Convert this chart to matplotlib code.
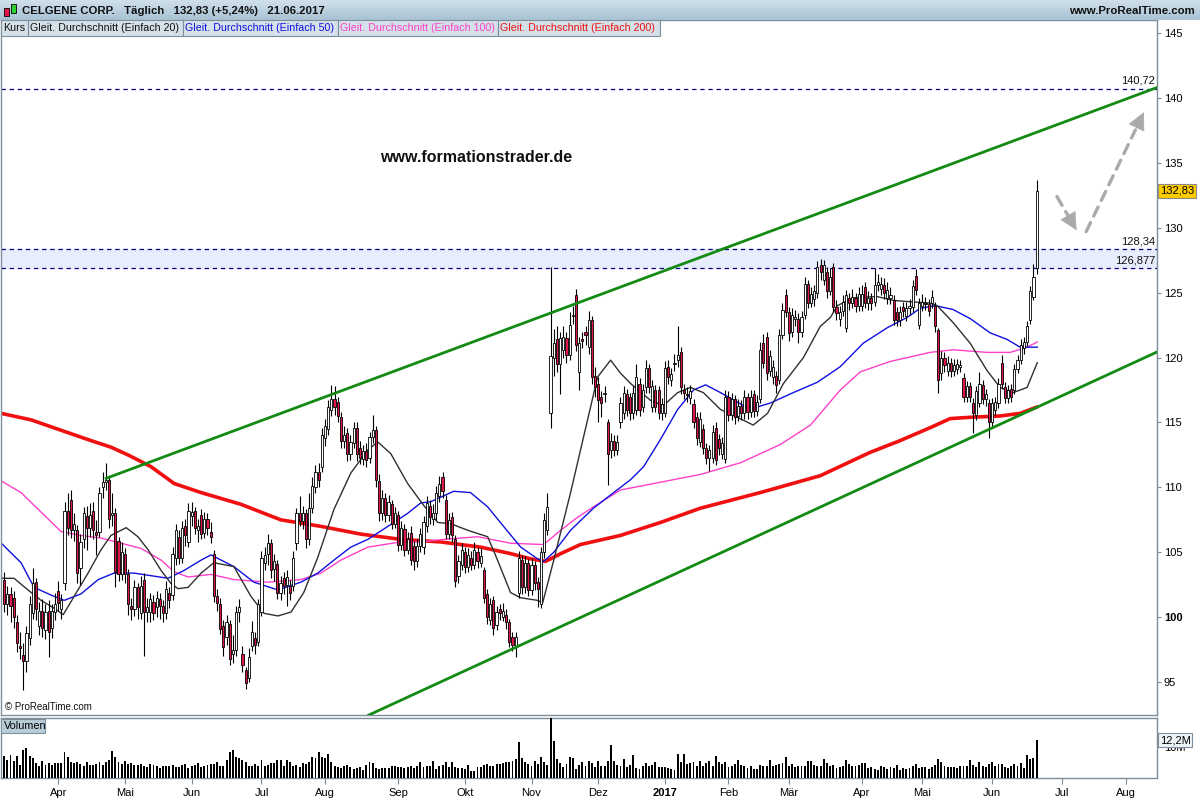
import matplotlib
matplotlib.use('Agg')
import matplotlib.pyplot as plt
import matplotlib.patches as mpatches
from matplotlib.colors import LinearSegmentedColormap
import numpy as np
import pandas as pd

plt.rcParams['font.family'] = ['Liberation Sans', 'DejaVu Sans']

# ---------------- data ----------------
opens = [
 102.9,101.0,101.8,101.5,99.6,97.8,97.1,96.6,98.4,100.3,102.7,99.3,100.5,99.0,100.5,99.2,100.4,
 102.0,100.6,102.6,108.2,109.0,106.7,106.7,103.8,106.0,107.8,106.9,108.2,106.6,106.6,110.0,110.4,110.6,107.9,108.0,105.9,103.3,
 104.9,103.3,100.9,100.6,102.3,100.3,102.9,100.4,100.4,101.2,100.8,101.4,100.9,100.3,101.9,101.7,104.6,106.2,104.6,107.0,105.8,
 107.8,108.2,106.7,107.9,106.5,107.6,106.6,104.9,101.6,101.0,99.3,98.5,99.5,97.2,97.5,100.4,97.2,95.9,95.3,97.8,98.4,98.1,
 100.4,104.2,104.9,105.7,103.7,104.1,101.9,103.0,102.5,102.4,102.4,105.7,108.0,107.4,108.0,106.0,108.4,110.0,111.2,111.6,
 113.8,114.5,116.0,116.8,116.6,115.4,113.6,114.2,112.6,113.4,114.6,113.0,112.2,112.8,112.3,113.9,114.4,110.5,108.0,109.2,107.9,108.7,107.2,
 107.9,105.6,106.8,105.2,106.5,105.5,104.3,105.5,105.4,107.0,108.6,107.6,108.0,109.3,110.8,109.0,106.4,107.7,106.0,103.2,104.0,
 105.0,103.9,104.6,104.0,105.0,104.2,103.6,101.8,99.8,101.3,99.4,100.6,100.0,100.2,99.6,98.5,97.7,101.9,104.4,102.3,104.2,
 102.1,104.0,102.7,101.0,105.0,106.7,115.7,120.0,121.4,119.5,120.6,121.5,120.2,123.2,124.8,118.9,121.4,122.0,120.8,122.9,118.6,
 118.0,117.0,117.2,115.0,112.9,113.6,112.9,115.0,115.7,117.2,117.0,115.7,116.0,118.0,116.2,117.7,119.2,116.2,117.5,117.5,115.7,
 115.7,119.3,118.3,119.5,119.8,120.4,117.5,117.2,116.9,116.4,115.4,113.5,114.5,113.0,112.3,112.3,114.6,113.7,112.6,112.2,
 117.0,115.6,116.8,115.5,116.3,115.7,117.0,115.8,117.2,115.9,116.8,121.1,121.6,119.0,118.5,118.6,118.3,121.7,124.8,
 123.5,122.0,123.0,123.0,122.0,123.3,125.7,124.2,124.5,125.0,127.1,126.0,126.6,125.1,127.0,123.9,123.0,123.6,122.3,124.6,124.2,124.6,124.0,
 124.0,125.4,124.2,124.6,124.3,125.6,125.3,125.6,124.6,124.6,124.4,123.5,122.9,123.9,123.2,123.8,123.9,126.3,122.5,
 124.0,124.2,124.1,124.2,124.0,122.1,118.8,120.0,119.0,119.6,119.0,119.1,119.3,118.4,117.0,117.8,116.5,115.6,116.5,117.9,116.8,116.5,
 115.0,116.0,116.5,119.6,117.7,116.9,117.6,117.5,119.1,119.8,120.7,121.2,122.9,124.7,126.9]

closes = [
 101.0,101.8,100.9,100.0,98.0,97.6,96.6,98.8,101.0,102.6,100.6,100.5,99.2,100.4,98.9,100.5,101.0,
 101.1,101.3,108.2,106.9,106.7,107.2,103.4,105.8,108.0,106.9,107.9,106.7,106.3,109.6,110.4,110.6,107.6,108.0,103.5,103.3,105.0,
 103.3,101.0,100.6,102.3,100.8,102.4,100.4,100.8,101.4,100.3,101.5,100.9,100.3,102.2,101.3,104.9,106.7,104.6,106.9,106.3,108.2,
 108.1,106.9,107.0,106.4,107.6,106.9,106.2,101.6,101.1,99.1,97.7,99.6,96.8,97.5,100.4,100.8,96.3,94.9,96.9,98.9,97.9,101.0,
 104.6,104.8,105.7,103.6,104.3,101.9,102.6,102.4,103.1,101.9,104.6,108.0,107.4,108.0,106.0,108.4,110.1,111.2,110.6,114.0,
 114.7,116.2,116.8,116.2,115.5,113.6,114.0,112.6,113.5,114.6,112.6,112.3,112.8,112.1,113.9,114.4,110.6,108.0,109.2,107.9,108.9,107.2,108.0,
 105.6,106.9,105.2,106.0,104.4,104.3,105.5,106.4,107.3,108.8,107.7,108.0,109.6,110.3,109.7,106.4,107.5,106.3,102.8,104.3,105.2,
 103.9,104.8,104.0,105.2,104.3,104.7,101.5,100.0,101.0,99.2,100.4,100.3,100.5,99.6,98.1,97.9,98.5,104.6,102.3,104.2,102.1,
 104.0,102.6,102.2,105.0,107.5,108.5,120.1,121.1,119.5,121.5,121.6,120.2,122.5,123.3,121.0,121.1,121.3,121.7,122.9,118.5,117.7,
 116.7,116.5,117.3,112.6,113.6,112.9,113.5,116.5,117.3,116.0,115.7,117.3,118.5,116.0,117.5,119.2,117.7,117.8,116.2,115.7,116.4,
 119.2,118.5,118.7,119.6,120.2,117.7,117.3,117.1,117.4,115.0,113.8,115.3,113.0,112.3,112.9,114.3,112.1,113.0,113.4,117.0,
 115.6,116.8,115.4,116.3,115.7,117.0,115.8,117.0,115.9,116.6,120.6,119.6,118.8,120.1,119.3,117.9,121.7,123.7,123.5,
 121.9,123.3,123.1,122.0,123.1,125.7,124.2,124.9,125.1,127.0,126.6,127.1,125.1,126.2,123.9,123.4,123.5,124.3,124.8,124.2,124.7,124.0,124.9,
 124.9,124.2,124.6,124.2,125.6,125.8,125.7,125.0,125.2,124.8,122.9,122.9,123.5,123.6,123.8,124.0,125.5,125.2,124.2,
 124.3,124.1,123.6,124.7,122.4,118.3,120.0,119.4,119.6,119.0,119.4,119.5,119.4,117.0,117.8,117.0,115.7,117.4,118.0,116.8,117.2,115.0,
 116.5,116.6,118.0,118.0,116.9,117.5,117.0,119.1,119.8,121.0,121.2,122.4,125.1,126.2,132.83]

highs = [
 103.5,102.4,102.3,102.0,100.2,98.9,98.0,99.3,101.6,103.8,103.0,101.2,101.4,101.0,101.3,101.0,101.9,
 102.8,101.8,108.9,109.6,109.8,108.0,107.1,106.4,108.5,108.6,108.8,108.9,107.5,110.0,111.2,111.9,110.9,109.6,108.4,106.2,105.8,
 105.3,103.7,101.5,102.9,102.6,103.2,103.4,101.5,101.9,101.7,102.0,101.9,101.3,102.8,102.3,105.4,107.2,106.7,107.4,107.6,108.8,
 108.9,108.5,107.6,108.3,108.1,108.0,107.3,105.2,102.2,101.5,99.8,100.2,99.8,98.6,100.9,101.4,97.8,96.2,97.6,99.7,98.9,101.4,
 105.1,105.4,106.4,106.0,104.9,104.4,103.2,103.5,103.6,102.9,105.1,108.4,109.3,108.6,108.3,109.6,110.8,111.7,111.9,114.6,
 115.3,116.7,117.9,117.8,117.0,115.8,114.7,114.6,114.0,115.0,115.0,113.6,113.3,113.4,114.3,115.6,114.7,111.0,109.8,109.6,109.4,109.0,108.5,
 108.2,107.4,107.2,106.6,107.0,105.9,106.0,106.9,107.8,109.3,109.0,108.7,110.1,110.9,111.2,109.4,108.0,108.1,106.3,104.8,105.7,
 105.4,105.3,105.1,105.8,105.4,105.3,103.9,102.2,101.5,101.6,100.9,101.0,101.1,100.6,99.9,98.9,98.9,105.1,104.8,104.7,104.5,
 104.6,104.3,103.1,105.4,108.0,109.6,127.0,122.2,122.4,122.0,122.4,122.0,123.5,124.0,125.3,121.6,122.0,122.4,123.6,123.2,119.3,
 118.5,117.4,117.8,115.3,114.2,114.0,114.0,117.0,117.8,117.6,117.3,117.8,119.5,118.4,118.0,119.8,119.5,118.3,117.9,117.8,116.9,
 119.7,119.8,119.2,120.3,122.4,120.8,118.0,117.7,117.9,116.8,115.8,115.8,114.9,113.4,113.3,114.8,115.0,114.1,113.9,117.5,
 117.4,117.3,117.1,116.8,116.7,117.5,117.3,117.5,117.5,117.1,121.2,121.8,122.0,120.6,119.8,119.0,122.2,124.2,125.3,
 123.9,123.8,123.7,123.4,123.6,126.2,126.0,125.4,125.6,127.4,127.6,127.5,127.0,126.9,127.3,124.4,124.0,124.8,125.2,125.0,125.3,125.0,125.4,
 125.6,125.8,125.1,125.0,126.9,126.4,126.2,126.1,125.8,125.4,124.8,123.9,124.0,124.3,124.3,124.5,126.0,126.8,124.6,
 124.9,124.7,124.5,125.2,124.3,122.3,120.5,120.4,120.1,120.0,119.9,119.9,119.8,118.8,118.2,118.1,116.9,117.8,118.9,118.3,117.6,116.8,
 116.9,117.0,118.4,120.2,118.1,117.9,118.0,119.5,120.2,121.4,121.6,122.8,125.5,127.2,133.7]

lows = [
 100.4,100.2,99.6,99.2,97.3,96.8,94.4,95.8,97.9,99.9,99.8,98.6,98.5,98.3,96.9,98.4,99.8,
 100.5,99.9,102.1,106.3,106.1,105.9,102.6,102.5,105.3,105.2,106.2,106.0,104.8,106.2,109.2,109.8,106.9,107.0,102.3,102.8,102.9,
 102.6,100.2,99.8,100.1,99.9,99.9,97.0,99.6,99.6,99.8,100.0,99.9,99.6,99.9,100.7,101.3,104.0,104.1,104.2,105.5,105.4,
 107.0,106.4,105.8,106.0,106.1,106.3,105.7,101.2,100.5,98.7,97.0,97.9,96.3,96.5,97.0,99.6,95.8,94.5,95.0,97.4,97.2,97.8,
 100.1,103.6,104.0,103.0,102.8,101.4,101.3,101.8,100.9,101.3,102.0,105.2,107.0,106.8,105.3,105.6,108.0,109.6,110.0,111.2,
 113.2,114.0,115.5,115.6,115.0,113.0,113.0,112.0,112.1,113.0,112.0,111.8,111.7,111.6,111.9,113.4,110.0,107.4,107.5,107.3,107.4,106.8,106.9,
 105.1,105.2,104.7,104.9,104.0,103.6,103.9,105.0,104.9,106.6,107.2,107.1,107.5,108.9,109.2,106.0,106.0,105.8,102.3,102.6,103.6,
 103.4,103.5,103.6,103.7,103.8,103.9,101.1,99.5,99.4,98.6,99.0,99.8,99.7,99.1,97.7,97.4,96.9,101.5,101.8,101.9,101.6,
 101.7,102.1,100.8,100.7,104.6,106.3,114.6,118.6,118.9,117.2,120.0,119.6,119.8,122.6,120.5,117.5,120.7,121.0,120.3,118.0,117.0,
 115.0,115.4,116.6,110.2,112.3,112.4,112.5,114.6,115.3,115.5,115.2,115.3,115.6,115.5,115.8,117.3,117.3,115.8,115.8,115.3,115.2,
 115.4,118.0,117.8,119.0,119.3,117.2,116.8,116.6,116.4,114.6,113.3,113.1,112.6,111.8,111.3,111.9,111.7,112.5,112.2,111.9,
 115.1,115.2,114.9,115.1,115.2,115.3,115.3,115.4,115.4,115.5,116.5,119.2,118.3,118.6,118.0,117.3,118.0,121.4,123.1,
 121.3,121.6,122.4,121.1,121.6,123.0,123.8,123.9,124.0,124.6,126.0,125.6,124.6,124.8,123.5,122.9,122.4,123.2,122.0,123.7,123.8,123.5,123.6,
 123.6,123.8,123.7,123.7,124.0,125.1,124.8,124.5,124.1,124.1,122.5,122.4,122.4,123.1,122.8,123.3,123.5,124.8,122.2,
 123.6,123.7,123.2,123.8,122.0,117.3,118.3,118.9,118.6,118.5,118.6,118.7,118.9,116.6,116.6,116.6,114.2,115.2,116.2,116.4,116.3,113.8,
 114.6,115.6,116.1,117.6,116.5,116.5,116.6,117.2,118.8,119.5,120.3,120.9,122.6,124.4,126.4]

volumes_m = [
 7.0,5.9,7.5,5.4,7.0,4.3,9.1,9.6,7.0,6.4,4.8,3.8,5.4,4.3,4.8,4.3,4.8,
 4.9,4.8,8.4,6.6,5.0,4.8,5.3,4.5,4.0,5.3,4.3,4.2,4.6,5.0,4.1,5.2,5.8,8.7,6.9,5.3,4.6,
 5.5,4.4,4.8,4.3,4.1,4.4,3.9,3.6,4.5,4.2,3.9,3.2,3.7,3.9,4.0,4.1,3.5,3.6,4.2,4.4,3.3,
 3.9,4.2,4.9,3.6,3.9,4.2,4.4,4.6,5.3,3.8,4.0,5.9,8.4,9.0,6.9,6.3,5.8,5.2,4.0,3.8,4.6,3.9,
 5.8,4.0,4.2,4.7,4.9,5.8,5.9,3.8,5.7,5.3,3.8,4.1,3.6,4.8,4.5,5.1,6.6,6.4,8.4,6.6,
 6.3,7.6,5.2,3.7,3.5,3.3,3.8,4.3,3.4,2.9,3.3,3.5,2.7,4.3,5.2,4.8,3.3,3.0,3.2,3.3,3.1,3.7,3.8,
 3.6,3.4,3.3,3.6,3.8,3.2,4.0,5.3,3.5,3.9,3.9,5.5,2.9,3.7,4.2,5.0,3.6,5.3,3.4,3.1,3.2,
 2.8,4.2,2.2,2.4,3.5,3.6,4.1,4.5,3.8,3.8,4.6,4.6,4.8,5.0,5.3,5.6,6.0,11.5,6.4,5.2,4.6,
 3.8,5.6,4.6,6.8,5.0,4.2,21.0,12.0,6.0,4.7,3.5,4.6,6.8,6.4,2.8,4.3,5.3,3.8,5.6,4.7,3.6,
 5.6,4.0,3.8,5.6,10.5,5.6,4.2,4.0,6.0,3.5,4.2,7.3,3.3,2.9,4.0,4.8,3.9,4.3,5.0,3.5,3.6,
 3.6,3.2,2.8,2.7,7.8,5.0,7.8,4.5,4.7,5.0,4.0,5.6,3.8,4.8,5.5,3.9,7.2,5.2,4.6,5.0,
 3.6,4.0,4.4,5.9,4.2,3.8,3.2,3.7,2.8,3.0,4.3,3.8,4.0,5.7,3.9,4.1,4.5,4.8,6.8,
 3.8,4.6,3.4,3.7,4.0,3.8,5.6,5.5,4.1,3.7,4.0,6.2,4.7,3.9,4.2,3.3,3.5,3.8,5.8,4.5,3.7,4.0,4.3,
 4.7,4.9,3.3,3.5,3.0,2.7,3.7,3.4,3.0,3.4,3.3,4.2,2.5,3.2,3.0,3.1,3.7,4.6,3.1,
 3.6,3.5,3.0,3.4,4.1,6.2,5.1,3.7,3.5,3.5,3.4,3.2,3.8,3.8,3.7,5.9,4.1,3.5,5.0,4.0,3.6,4.5,
 5.0,3.8,4.5,4.6,3.6,3.2,3.8,4.5,3.9,4.8,3.2,7.5,6.1,6.3,12.2]

# moving averages: (trading-day number, value)
sma20_idx = [-0.9,3.1,7.5,11.6,15.7,18.6,22,26.4,30.5,33.6,38.4,42.1,45.3,49.4,52.5,54.7,57.9,62,66,72.3,77.7,81.8,86.2,90.3,94.3,98.7,103.8,109.1,114.5,117.6,121.7,127,132.1,136.5,140.6,145.9,152.2,155.3,159.4,162.6,167.9,169.5,173,178.3,182.4,186.8,190.9,194,197.2,203.5,207.5,212,216,220.1,225.5,230.8,235.8,240.3,245.3,251.6,256.9,260.1,262.3,267.3,274.8,279.9,285.2,291.5,293.7,298.7,304.1,309.4,313.5,317.6,322,325.2]
sma20_val = [103.0,103.0,102.1,101.3,100.7,100.2,101.6,103.4,105.2,106.3,106.9,106.2,105.2,103.6,102.6,102.2,102.3,103.4,104.2,103.9,101.6,100.3,100.1,100.4,101.9,104.6,108.3,111.1,112.9,113.5,112.6,110.3,108.6,107.3,107.2,106.7,106.2,104.4,101.9,101.5,101.3,101.1,104.4,109.6,113.9,118.5,119.8,118.8,118.0,116.7,116.3,117.3,117.7,117.3,116.0,115.4,114.8,115.7,118.0,120.0,122.4,123.1,124.0,124.6,124.7,124.4,124.3,124.2,124.0,122.7,121.1,119.0,117.7,117.3,117.7,119.6]
sma50_idx = [-0.9,5.3,9.4,14.8,18.9,24.2,29.6,34.6,40.9,46.2,51.6,56.6,62,65.1,72.3,78.6,86.2,93.4,98.7,103.8,109.1,114.5,120.8,127,131.1,134.3,141.5,146.8,152.2,157.2,162.6,167.9,169.8,173,178.3,185.5,194,197.2,201.3,206.6,212,217,220.8,225.5,232.7,235.8,241.2,248.4,256,263.2,270.4,278,284.3,288.4,293.1,298.7,304.1,310.4,315.7,319.8,325.2]
sma50_val = [105.7,104.2,102.3,101.7,101.3,101.8,102.9,103.4,103.4,103.2,103.0,103.6,104.4,104.8,103.9,102.7,102.1,102.7,103.4,104.4,105.4,106.0,107.0,108.0,108.8,108.9,109.7,109.6,108.5,107.0,105.4,104.5,104.3,105.0,106.7,108.4,110.0,110.6,111.6,113.7,116.0,117.5,117.9,117.3,116.3,116.1,116.5,117.3,118.1,119.3,121.1,122.3,123.1,123.8,124.0,123.7,123.0,121.9,121.4,120.8,120.8]
sma100_idx = [-0.9,5.3,11.6,17.9,24.2,30.5,36.8,43.1,49.4,53.5,57.9,65.1,72.3,83,93.4,99.7,106,114.5,124.8,131.1,138.4,149.1,159.4,169.8,175.2,180.5,185.5,194,206.6,219.2,231.8,244.3,253.8,263.2,269.5,278.9,291.5,298.7,309.4,316.7,322,325.2]
sma100_val = [110.5,109.6,108.1,106.6,106.3,106.1,105.7,105.3,104.4,103.5,103.1,103.3,102.9,102.7,102.9,103.4,104.4,105.4,105.8,105.8,106.0,106.2,105.7,105.6,106.7,107.7,108.5,109.8,110.4,111.0,111.9,113.3,114.8,117.5,118.9,119.7,120.4,120.6,120.4,120.4,120.8,121.2]
sma200_idx = [-0.9,8.5,17.9,27.4,33.6,39,46.2,53.5,62,74.5,87.1,99.7,112.3,124.8,137.4,150,159.4,165.7,170.4,175.2,181.4,194,206.6,219.2,238,256.9,272.6,282,291.5,297.8,304.1,313.5,319.8,325.2]
sma200_val = [115.7,115.2,114.4,113.6,113.1,112.5,111.6,110.3,109.6,108.7,107.5,107.0,106.4,106.0,105.8,105.4,104.9,104.5,104.3,104.9,105.6,106.3,107.3,108.4,109.6,110.9,112.7,113.6,114.6,115.3,115.4,115.5,115.7,116.2]

# trend channel and levels
upper_line = [(32.1, 110.7), (362.9, 140.8)]
lower_line = [(114.8, 92.47), (362.9, 120.43)]
levels = [140.72, 128.34, 126.877]
level_labels = ['140,72', '128,34', '126,877']
arrow1 = [(331.4, 132.4), (337.6, 129.8)]
arrow2 = [(340.6, 129.7), (358.8, 138.9)]

price_ticks = [95, 100, 105, 110, 115, 120, 125, 130, 135, 140, 145]
month_labels = ['Apr', 'Mai', 'Jun', 'Jul', 'Aug', 'Sep', 'Okt', 'Nov', 'Dez', '2017',
                'Feb', 'Mär', 'Apr', 'Mai', 'Jun', 'Jul', 'Aug']
holidays = ['2016-03-25', '2016-05-30', '2016-07-04', '2016-09-05', '2016-11-24',
            '2016-12-26', '2017-01-02', '2017-01-16', '2017-02-20', '2017-04-14',
            '2017-05-29', '2017-07-04']

# ---------------- figure ----------------
W, H = 1200, 800
fig = plt.figure(figsize=(12, 8), dpi=100)
fig.patch.set_facecolor('white')

def fx(x):
    return x / W

def fy(y):
    return 1 - y / H

GRID = '#7d8f9c'
ax = fig.add_axes([0.001, fy(715), fx(1157) - 0.001, (715 - 20) / H])
axv = fig.add_axes([0.001, fy(778), fx(1157) - 0.001, (778 - 718) / H])

n = len(closes)
xs = np.arange(n)
o = np.array(opens[:n]); c = np.array(closes[:n])
h = np.maximum(np.array(highs[:n]), np.maximum(o, c))
l = np.minimum(np.array(lows[:n]), np.minimum(o, c))

XMIN, XMAX = -0.94, 362.9
for a in (ax, axv):
    a.set_xlim(XMIN, XMAX)
    for s in a.spines.values():
        s.set_color(GRID)
        s.set_linewidth(1.0)
ax.set_ylim(92.47, 146.0)

# band and levels
ax.axhspan(levels[2], levels[1], color='#e8edfc', zorder=0)
for lv, lab in zip(levels, level_labels):
    ax.axhline(lv, color='#000080', lw=0.9, ls=(0, (3.5, 3)), zorder=1)
    ax.text(362.3, lv + 0.25, lab, ha='right', va='bottom', fontsize=8, color='#111111', zorder=6)

# candles
ax.vlines(xs, l, h, color='black', lw=0.8, zorder=3)
up = c >= o
body_bottom = np.minimum(o, c)
body_h = np.maximum(np.abs(c - o), 0.08)
ax.bar(xs[up], body_h[up], bottom=body_bottom[up], width=0.68, color='white',
       edgecolor='black', linewidth=0.6, zorder=4)
ax.bar(xs[~up], body_h[~up], bottom=body_bottom[~up], width=0.68, color='#e0154a',
       edgecolor='black', linewidth=0.6, zorder=4)

# moving averages
ax.plot(sma200_idx, sma200_val, color='#f01010', lw=2.6, zorder=2,
        solid_capstyle='round', solid_joinstyle='round')
ax.plot(sma100_idx, sma100_val, color='#ff40c8', lw=1.0, zorder=2)
ax.plot(sma50_idx, sma50_val, color='#1010e0', lw=1.0, zorder=2)
ax.plot(sma20_idx, sma20_val, color='#303030', lw=1.0, zorder=2)

# trend channel
for line in (upper_line, lower_line):
    ax.plot([line[0][0], line[1][0]], [line[0][1], line[1][1]], color='#138a13', lw=2.0, zorder=5)

# arrows: dashed shaft + solid head
for arr in (arrow1, arrow2):
    (x0, y0), (x1, y1) = arr
    ax.annotate('', xy=(x0 + 0.85 * (x1 - x0), y0 + 0.85 * (y1 - y0)), xytext=(x0, y0),
                arrowprops=dict(arrowstyle='-', color='#aaaaaa', lw=2.4,
                                ls=(0, (3, 2.2)), shrinkA=0, shrinkB=0), zorder=6)
    ax.annotate('', xy=(x1, y1), xytext=(x0 + 0.8 * (x1 - x0), y0 + 0.8 * (y1 - y0)),
                arrowprops=dict(arrowstyle='-|>,head_length=0.9,head_width=0.45',
                                mutation_scale=13, color='#aaaaaa', lw=0.5,
                                shrinkA=0, shrinkB=0), zorder=6)

# price axis on the right
ax.yaxis.tick_right()
ax.set_yticks(price_ticks)
ax.set_yticklabels([str(t) for t in price_ticks], fontsize=8)
for t in ax.get_yticklabels():
    if t.get_text() == '100':
        t.set_fontweight('bold')
ax.tick_params(axis='y', direction='out', length=3, width=0.8, color=GRID, pad=2)
ax.set_xticks([])

ax.annotate('132,83', xy=(1.0, closes[-1]), xycoords=('axes fraction', 'data'),
            xytext=(2, 0), textcoords='offset points', ha='left', va='center', fontsize=8,
            bbox=dict(boxstyle='square,pad=0.15', fc='#ffcc00', ec='#8a8a8a', lw=0.8),
            annotation_clip=False, zorder=10)

ax.text(0.003, 0.005, '© ProRealTime.com', transform=ax.transAxes, fontsize=7,
        ha='left', va='bottom', color='#111111')

# volume
vol = np.array(volumes_m[:n])
axv.bar(xs[:len(vol)], vol, width=0.6, color='black', zorder=3)
axv.set_ylim(0, 19.3)
axv.yaxis.tick_right()
axv.set_yticks([10])
axv.set_yticklabels(['10M'], fontsize=8)
axv.tick_params(axis='y', direction='out', length=3, width=0.8, color=GRID, pad=2)
axv.annotate('12,2M', xy=(1.0, 12.2), xycoords=('axes fraction', 'data'),
             xytext=(2, 0), textcoords='offset points', ha='left', va='center', fontsize=8,
             bbox=dict(boxstyle='square,pad=0.15', fc='#eef3f6', ec='#7d8f9c', lw=0.8),
             annotation_clip=False, zorder=10)

# month ticks
days = pd.bdate_range('2016-03-08', '2017-08-31', freq='C', holidays=holidays)
ser = pd.Series(np.arange(len(days)), index=days)
starts = ser.groupby([days.year, days.month]).first().values[1:1 + len(month_labels)]
axv.set_xticks(starts)
axv.set_xticklabels(month_labels, fontsize=8)
for t in axv.get_xticklabels():
    if t.get_text() == '2017':
        t.set_fontweight('bold')
axv.tick_params(axis='x', direction='out', length=4, width=0.8, color=GRID, pad=3)

# volume label box
fig.add_artist(mpatches.Rectangle((fx(1), fy(733)), fx(44), 14 / H, transform=fig.transFigure,
                                  fc='#b9cdd9', ec='#7d8f9c', lw=0.8, zorder=5))
fig.text(fx(4), fy(726), 'Volumen', fontsize=7.8, ha='left', va='center', zorder=6)

# header
hax = fig.add_axes([0, fy(20), 1, 20 / H])
grad = np.linspace(0, 1, 20).reshape(-1, 1)
cm = LinearSegmentedColormap.from_list('hdr', ['#cfdfea', '#a9c3d4'])
hax.imshow(grad, aspect='auto', cmap=cm, extent=[0, 1, 0, 1])
hax.set_axis_off()
fig.text(fx(22), fy(10.5), 'CELGENE CORP.   Täglich   132,83 (+5,24%)   21.06.2017',
         fontsize=8.2, fontweight='bold', ha='left', va='center', color='#111111')
fig.text(fx(1195), fy(10.5), 'www.ProRealTime.com', fontsize=8.2, fontweight='bold',
         ha='right', va='center', color='#111111')
# small candle icon
fig.add_artist(mpatches.Rectangle((fx(4), fy(16)), fx(5), 8 / H, transform=fig.transFigure,
                                  fc='#e0154a', ec='black', lw=0.6))
fig.add_artist(mpatches.Rectangle((fx(11), fy(13)), fx(5), 9 / H, transform=fig.transFigure,
                                  fc='#30d030', ec='black', lw=0.6))

# legend boxes
legend_items = [('Kurs', 1, 28, '#111111'),
                ('Gleit. Durchschnitt (Einfach 20)', 28, 183, '#111111'),
                ('Gleit. Durchschnitt (Einfach 50)', 183, 338, '#1010e0'),
                ('Gleit. Durchschnitt (Einfach 100)', 338, 498, '#ff40c8'),
                ('Gleit. Durchschnitt (Einfach 200)', 498, 660, '#f01010')]
for txt, x0, x1, col in legend_items:
    fig.add_artist(mpatches.Rectangle((fx(x0), fy(36)), fx(x1 - x0), 16 / H,
                                      transform=fig.transFigure, fc='#d5e1e9',
                                      ec='#7d8f9c', lw=0.8))
    fig.text(fx(x0 + 2), fy(28), txt, fontsize=7.7, color=col, ha='left', va='center')

# watermark text
fig.text(fx(476), fy(157), 'www.formationstrader.de', fontsize=11.5, fontweight='bold',
         ha='center', va='center', color='#111111')

fig.savefig('out.png', dpi=100)
